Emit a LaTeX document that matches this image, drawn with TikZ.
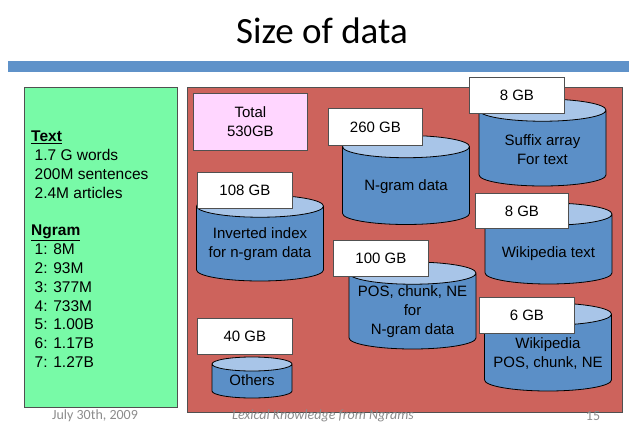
\documentclass[tikz,border=0pt]{standalone}
\usepackage{fontspec}
\setmainfont{Liberation Sans}
\newfontfamily\slidefont{Carlito}
\usepackage{tikz}
\usetikzlibrary{shapes.geometric}

\definecolor{barblue}{RGB}{95,146,201}
\definecolor{textgreen}{RGB}{120,250,167}
\definecolor{storered}{RGB}{205,99,92}
\definecolor{totalpink}{RGB}{255,214,255}
\definecolor{cylbody}{RGB}{91,143,199}
\definecolor{cyltop}{RGB}{168,197,232}
\definecolor{footgray}{RGB}{140,140,140}
\definecolor{edgegray}{RGB}{80,80,80}

\begin{document}
\begin{tikzpicture}
        [
        x = 1pt, y = -1pt,
        panel/.style = {
            draw = edgegray, line width = 1pt,
            inner sep = 0pt,
        },
        sizebox/.style = {
            draw = edgegray, fill = white, line width = 0.8pt,
            anchor = north west, inner sep = 0pt,
            minimum width = 95pt, minimum height = 36pt,
            font = \fontsize{15}{18}\selectfont,
        },
        datastore/.style = {
            draw = black, line width = 0.8pt,
            cylinder, shape border rotate = 90, aspect = 0.175,
            cylinder uses custom fill,
            cylinder body fill = cylbody, cylinder end fill = cyltop,
            inner ysep = 0pt, inner xsep = 63.5pt,
            anchor = shape center,
        },
        storetext/.style = {
            align = center, inner sep = 0pt,
            font = \fontsize{15}{19}\selectfont,
        },
        footer/.style = {
            text = footgray,
            font = \slidefont\fontsize{14}{17}\selectfont,
        },
        ]

        \useasboundingbox (0,0) rectangle (629,425);

        % Kop
        \node[font = \slidefont\fontsize{37}{40}\selectfont] (title) at (322,31) {Size of data};
        \fill[barblue] (8,61) rectangle (629,72);

        % Panelen
        \node[panel, fill = textgreen, anchor = north west, minimum width = 153pt, minimum height = 320pt] (text_panel) at (24,87) {};
        \node[panel, fill = storered, anchor = north west, minimum width = 435pt, minimum height = 325pt] (store_panel) at (187,87) {};

        \node[anchor = north west, align = left, inner sep = 0pt,
            font = \fontsize{15.5}{18.8}\selectfont] (corpus_stats) at (31,131)
            {\underline{\textbf{Text}} \\
             \hspace*{3.5pt}1.7 G words \\
             \hspace*{3.5pt}200M sentences \\
             \hspace*{3.5pt}2.4M articles \\[18.8pt]
             \underline{\textbf{Ngram}} \\
             \hspace*{3.5pt}1: 8M \\
             \hspace*{3.5pt}2: 93M \\
             \hspace*{3.5pt}3: 377M \\
             \hspace*{3.5pt}4: 733M \\
             \hspace*{3.5pt}5: 1.00B \\
             \hspace*{3.5pt}6: 1.17B \\
             \hspace*{3.5pt}7: 1.27B};

        \node[draw = edgegray, fill = totalpink, line width = 0.8pt, anchor = north west,
            minimum width = 114pt, minimum height = 57pt, align = center,
            font = \fontsize{15}{19}\selectfont] (total) at (193,93) {Total \\ 530GB};

        % Cilinders
        \node[datastore, minimum height = 89pt] (ngram_data) at (406,180) {};
        \node[datastore, minimum height = 87pt] (suffix_array) at (542.5,142.5) {};
        \node[datastore, minimum height = 81pt] (wiki_text) at (548.5,243.5) {};
        \node[datastore, minimum height = 88pt] (wiki_pos) at (548,347) {};
        \node[datastore, minimum height = 86pt] (inverted_index) at (260,238) {};
        \node[datastore, minimum height = 87pt] (ngram_pos) at (412.5,305.5) {};
        \node[datastore, inner xsep = 40pt, minimum height = 41pt] (others) at (252,377.5) {};

        \node[storetext] (ngram_data_text) at ([yshift = -7pt]ngram_data.shape center) {N-gram data};
        \node[storetext] (suffix_array_text) at ([yshift = -7pt]suffix_array.shape center) {Suffix array \\ For text};
        \node[storetext] (wiki_text_text) at ([yshift = -10.5pt]wiki_text.shape center) {Wikipedia text};
        \node[storetext] (wiki_pos_text) at ([yshift = -7pt]wiki_pos.shape center) {Wikipedia \\ POS, chunk, NE};
        \node[storetext] (inverted_index_text) at ([yshift = -6pt]inverted_index.shape center) {Inverted index \\ for n-gram data};
        \node[storetext] (ngram_pos_text) at ([yshift = -6.5pt]ngram_pos.shape center) {POS, chunk, NE \\ for \\ N-gram data};
        \node[storetext] (others_text) at ([yshift = -2.5pt]others.shape center) {Others};

        % Groottes
        \node[sizebox, minimum width = 94pt, minimum height = 37pt] (ngram_size) at (328,108) {260 GB};
        \node[sizebox] (suffix_size) at (469,77) {8 GB};
        \node[sizebox, minimum width = 93pt, minimum height = 35pt] (wiki_text_size) at (475,193) {8 GB};
        \node[sizebox] (wiki_pos_size) at (479,297) {6 GB};
        \node[sizebox] (inverted_size) at (197,172) {108 GB};
        \node[sizebox] (ngram_pos_size) at (333,240) {100 GB};
        \node[sizebox] (others_size) at (197,318) {40 GB};

        % Voettekst
        \node[footer] (date) at (95,416) {July 30th, 2009};
        \node[footer, font = \slidefont\itshape\fontsize{14}{17}\selectfont] (talk) at (323,416) {Lexical Knowledge from Ngrams};
        \node[footer] (page) at (593,416) {15};
\end{tikzpicture}
\end{document}
